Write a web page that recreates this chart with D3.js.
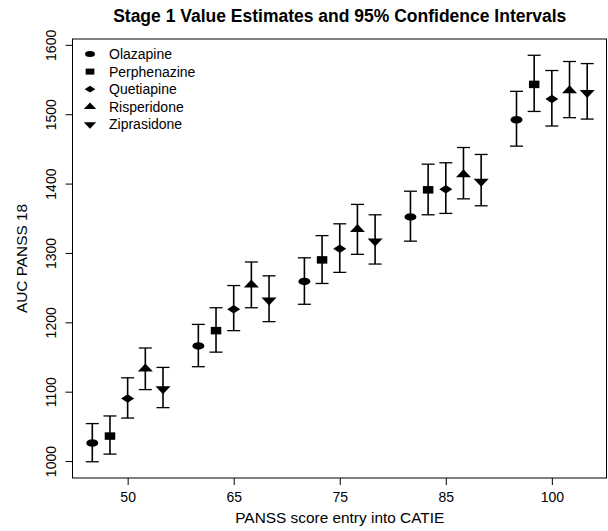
<!DOCTYPE html>
<html>
<head>
<meta charset="utf-8">
<script src="https://cdn.jsdelivr.net/npm/d3@7"></script>
<style>
  body { margin: 0; background: #fff; }
  text { font-family: "Liberation Sans", Arial, Helvetica, sans-serif; fill: #000; }
</style>
</head>
<body>
<svg id="chart" width="608" height="531"></svg>
<script>
// drugs (one marker shape each) and the PANSS entry groups on the x axis
const drugs = ['Olazapine', 'Perphenazine', 'Quetiapine', 'Risperidone', 'Ziprasidone'];
const shapes = ['circle', 'square', 'diamond', 'triUp', 'triDown'];
const entryScores = ['50', '65', '75', '85', '100'];
const yTicks = [1000, 1100, 1200, 1300, 1400, 1500, 1600];

// rows = drug, columns = entry score group
const estimate = [
  [1026, 1166, 1259, 1352, 1492],
  [1036, 1188, 1290, 1391, 1543],
  [1090, 1219, 1306, 1392, 1522],
  [1133, 1254, 1334, 1413, 1534],
  [1104, 1232, 1317, 1403, 1531]
];
const lower = [
  [999, 1136, 1226, 1317, 1454],
  [1010, 1157, 1256, 1355, 1504],
  [1062, 1188, 1272, 1357, 1483],
  [1103, 1221, 1298, 1378, 1495],
  [1077, 1201, 1284, 1368, 1493]
];
const upper = [
  [1054, 1197, 1293, 1389, 1533],
  [1065, 1221, 1325, 1428, 1585],
  [1120, 1253, 1342, 1430, 1563],
  [1163, 1287, 1370, 1452, 1576],
  [1135, 1267, 1355, 1442, 1573]
];

const svg = d3.select('#chart');
const box = { left: 72.5, right: 607, top: 39, bottom: 478 };

// flatten to points: x = group index + dodge offset
const pts = [];
drugs.forEach((d, i) => {
  entryScores.forEach((g, j) => {
    pts.push({ drug: i, x: j + 1 + (i - 2) / 6, y: estimate[i][j], lo: lower[i][j], hi: upper[i][j] });
  });
});

// R-style 4% padding on the data range
const pad = ([a, b]) => [a - 0.04 * (b - a), b + 0.04 * (b - a)];
const x = d3.scaleLinear()
  .domain(pad(d3.extent(pts, p => p.x)))
  .range([box.left, box.right]);
const y = d3.scaleLinear()
  .domain(pad([d3.min(pts, p => p.lo), d3.max(pts, p => p.hi)]))
  .range([box.bottom, box.top]);

// marker outlines, wider than tall like the original
function shapePath(type, w, h) {
  switch (type) {
    case 'circle':
      return `M${-w / 2},0A${w / 2},${h / 2} 0 1,0 ${w / 2},0A${w / 2},${h / 2} 0 1,0 ${-w / 2},0Z`;
    case 'square':
      return `M${-w / 2},${-h / 2}h${w}v${h}h${-w}Z`;
    case 'diamond':
      return `M0,${-h / 2}L${w / 2},0L0,${h / 2}L${-w / 2},0Z`;
    case 'triUp':
      return `M0,${-2 * h / 3}L${w / 2},${h / 3}L${-w / 2},${h / 3}Z`;
    case 'triDown':
      return `M0,${2 * h / 3}L${w / 2},${-h / 3}L${-w / 2},${-h / 3}Z`;
  }
}
const sizes = {
  circle: [12, 7.5], square: [10.5, 7.5], diamond: [13, 8.5],
  triUp: [15, 8], triDown: [15, 8]
};

// frame
svg.append('rect')
  .attr('x', box.left).attr('y', box.top)
  .attr('width', box.right - box.left - 0.5).attr('height', box.bottom - box.top)
  .attr('fill', 'none').attr('stroke', '#000').attr('stroke-width', 1);

// x axis (categorical groups at 1..5)
const xAxis = svg.append('g').attr('transform', `translate(0,${box.bottom})`)
  .call(d3.axisBottom(x).tickValues([1, 2, 3, 4, 5])
    .tickFormat((d, i) => entryScores[i]).tickSize(7).tickPadding(7));
xAxis.select('.domain').remove();
xAxis.selectAll('text').attr('font-size', 14).attr('font-family', null);

// y axis, labels turned like R's default
const yAxis = svg.append('g').attr('transform', `translate(${box.left},0)`)
  .call(d3.axisLeft(y).tickValues(yTicks).tickSize(7).tickFormat(d3.format('d')));
yAxis.select('.domain').remove();
yAxis.selectAll('text')
  .attr('font-size', 14).attr('font-family', null)
  .attr('x', null).attr('dy', null)
  .attr('text-anchor', 'middle')
  .attr('transform', 'translate(-17,0) rotate(-90)');

// error bars
const bars = svg.append('g').attr('stroke', '#000');
bars.selectAll('line.v').data(pts).join('line')
  .attr('x1', p => x(p.x)).attr('x2', p => x(p.x))
  .attr('y1', p => y(p.lo)).attr('y2', p => y(p.hi))
  .attr('stroke-width', 1.6);
['lo', 'hi'].forEach(k => {
  bars.selectAll('line.' + k).data(pts).join('line')
    .attr('x1', p => x(p.x) - 6.5).attr('x2', p => x(p.x) + 6.5)
    .attr('y1', p => y(p[k])).attr('y2', p => y(p[k]))
    .attr('stroke-width', 1.3);
});

// point estimates
svg.append('g').selectAll('path').data(pts).join('path')
  .attr('transform', p => `translate(${x(p.x)},${y(p.y)})`)
  .attr('d', p => shapePath(shapes[p.drug], ...sizes[shapes[p.drug]]))
  .attr('fill', '#000');

// legend
const legend = svg.append('g').attr('transform', 'translate(90,54)');
drugs.forEach((d, i) => {
  const row = legend.append('g').attr('transform', `translate(0,${i * 17.6})`);
  const s = sizes[shapes[i]];
  row.append('path').attr('d', shapePath(shapes[i], s[0] * 0.83, s[1] * 0.8)).attr('fill', '#000');
  row.append('text').attr('x', 19).attr('y', 5).attr('font-size', 14).text(d);
});

// titles
svg.append('text')
  .attr('x', (box.left + box.right) / 2).attr('y', 22)
  .attr('text-anchor', 'middle').attr('font-size', 17.5).attr('font-weight', 'bold')
  .text('Stage 1 Value Estimates and 95% Confidence Intervals');
svg.append('text')
  .attr('x', (box.left + box.right) / 2).attr('y', 523)
  .attr('text-anchor', 'middle').attr('font-size', 15.4)
  .text('PANSS score entry into CATIE');
svg.append('text')
  .attr('transform', `translate(27,${(box.top + box.bottom) / 2}) rotate(-90)`)
  .attr('text-anchor', 'middle').attr('font-size', 15.4)
  .text('AUC PANSS 18');
</script>
</body>
</html>
